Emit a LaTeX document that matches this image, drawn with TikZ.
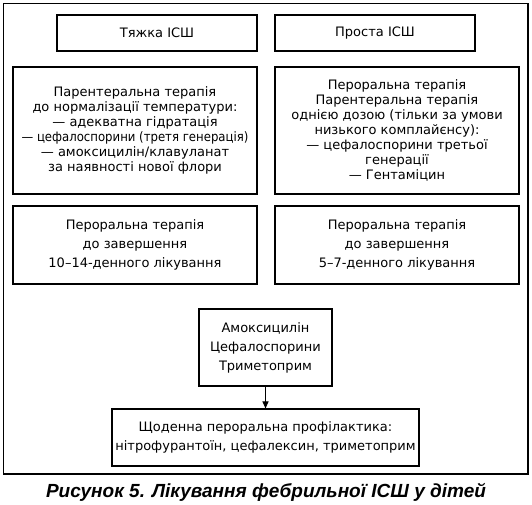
\documentclass[tikz,border=0pt]{standalone}
\usepackage{fontspec}
\setmainfont{DejaVu Sans}
\newfontfamily\capfont{Liberation Sans}
\usetikzlibrary{arrows.meta}
\tikzset{
  box/.style={draw=black, line width=1.1pt, inner sep=0pt, align=center, font=\fontsize{13}{15}\selectfont},
  wide/.style={font=\fontsize{13}{19}\selectfont},
  link/.style={draw=black, line width=1pt, -{Triangle[length=7pt,width=6pt]}}
}
\begin{document}
\begin{tikzpicture}[x=1pt,y=-1pt]
\useasboundingbox (0,0) rectangle (532,504);
\draw[line width=1.2pt] (3.5,3.5) rectangle (528,474);
\node[box, minimum width=200pt, minimum height=36pt] (tl) at (157,33) {Тяжка ІСШ};
\node[box, minimum width=200pt, minimum height=36pt] (tr) at (375,33) {Проста ІСШ};
\node[box, minimum width=244pt, minimum height=127pt] (ml) at (135,130.5) {Парентеральна терапія\\до нормалізації температури:\\— адекватна гідратація\\\scalebox{0.9}[1]{— цефалоспорини (третя генерація)}\\— амоксицилін/клавуланат\\за наявності нової флори};
\node[box, minimum width=244pt, minimum height=127pt] (mr) at (397,130.5) {Пероральна терапія\\Парентеральна терапія\\однією дозою (тільки за умови\\низького комплайєнсу):\\— цефалоспорини третьої\\генерації\\— Гентаміцин};
\node[box, wide, minimum width=244pt, minimum height=78pt] (bl) at (135,245) {Пероральна терапія\\до завершення\\10–14-денного лікування};
\node[box, wide, minimum width=244pt, minimum height=78pt] (br) at (397,245) {Пероральна терапія\\до завершення\\5–7-денного лікування};
\node[box, wide, minimum width=133pt, minimum height=77pt] (am) at (265.5,347.5) {Амоксицилін\\Цефалоспорини\\Триметоприм};
\node[box, wide, minimum width=307pt, minimum height=57pt] (pr) at (265.5,437.5) {Щоденна пероральна профілактика:\\нітрофурантоїн, цефалексин, триметоприм};
\draw[link] (am) -- (pr);
\node[font=\capfont\bfseries\itshape\fontsize{19}{22}\selectfont, anchor=base] (cap) at (266,497) {Рисунок 5. Лікування фебрильної ІСШ у дітей};
\end{tikzpicture}
\end{document}
